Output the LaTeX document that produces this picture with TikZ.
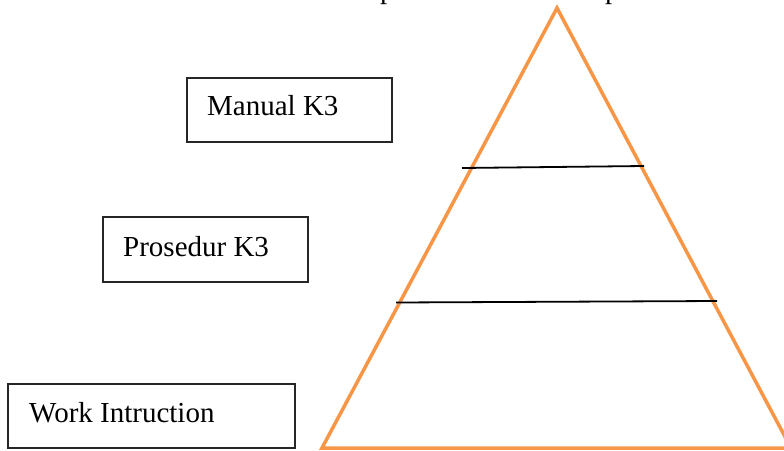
\documentclass[tikz,border=0pt]{standalone}
\usepackage{fontspec}
\setmainfont{Liberation Serif}
\begin{document}
\begin{tikzpicture}[x=1pt,y=-1pt,
  lbl/.style={anchor=base west,inner sep=0pt,font=\fontsize{29}{31}\selectfont},
  frame/.style={draw=black!85,line width=1.3pt},
  tier/.style={draw=black,line width=1.8pt},
  pyr/.style={draw={rgb,255:red,247;green,150;blue,70},line width=3.5pt,line join=miter}]
\useasboundingbox (0,0) rectangle (784,450);
\clip (0,0) rectangle (784,450);
% pyramid
\coordinate (apex) at (557,8);
\coordinate (bl) at (322,448);
\coordinate (br) at (791,448);
\draw[pyr] (apex) -- (bl) -- (br) -- cycle;
% tier lines
\coordinate (l1a) at (462,168);
\coordinate (l1b) at (644,166);
\coordinate (l2a) at (396,302.5);
\coordinate (l2b) at (717,301);
\draw[tier] (l1a) -- (l1b);
\draw[tier] (l2a) -- (l2b);
% boxes
\draw[frame] (187,78) rectangle (392,142);
\node[lbl] (t1) at (207,115) {Manual K3};
\draw[frame] (103,217) rectangle (308,282);
\node[lbl] (t2) at (123,256) {Prosedur K3};
\draw[frame] (8,384) rectangle (295,448);
\node[lbl] (t3) at (29,422) {Work Intruction};
% cut-off text fragments at top (as in the reference)
\node[lbl] (p1) at (380,-2) {p};
\node[lbl] (p2) at (605,-2) {p};
\end{tikzpicture}
\end{document}
